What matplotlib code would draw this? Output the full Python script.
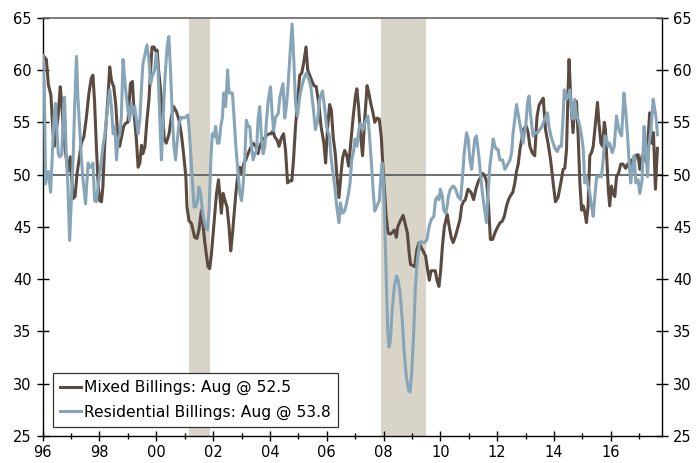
import matplotlib
matplotlib.use('Agg')
import matplotlib.pyplot as plt

# (year, value)
mixed_pts = [
    (1996.04, 61.3), (1996.13, 61.0), (1996.20, 58.6), (1996.29, 57.6), (1996.36, 54.2), (1996.41, 52.7),
    (1996.48, 54.2), (1996.54, 55.5), (1996.62, 58.4), (1996.67, 56.8), (1996.74, 53.6), (1996.81, 52.0),
    (1996.89, 50.3), (1996.97, 51.7), (1997.07, 47.7), (1997.14, 47.9), (1997.21, 50.1), (1997.28, 51.4),
    (1997.36, 53.0), (1997.45, 53.6), (1997.54, 55.5), (1997.63, 57.8), (1997.71, 59.2), (1997.77, 59.5),
    (1997.83, 56.8), (1997.89, 52.7), (1997.96, 48.8), (1998.01, 47.5), (1998.07, 47.4), (1998.12, 48.8),
    (1998.18, 52.7), (1998.24, 55.2), (1998.30, 57.4), (1998.36, 60.3), (1998.42, 59.0), (1998.50, 58.4),
    (1998.57, 56.8), (1998.63, 54.2), (1998.71, 52.7), (1998.77, 53.5), (1998.85, 54.6), (1998.92, 54.9),
    (1999.00, 55.0), (1999.09, 58.7), (1999.16, 58.9), (1999.22, 55.8), (1999.30, 53.3), (1999.36, 50.7),
    (1999.42, 51.1), (1999.48, 52.8), (1999.53, 52.0), (1999.60, 52.7), (1999.67, 55.2), (1999.74, 57.1),
    (1999.80, 60.0), (1999.85, 62.2), (1999.92, 62.2), (1999.98, 61.8), (2000.03, 61.9), (2000.08, 60.0),
    (2000.14, 58.4), (2000.21, 56.3), (2000.28, 53.4), (2000.35, 53.0), (2000.45, 53.9), (2000.53, 55.5),
    (2000.61, 56.5), (2000.71, 56.0), (2000.80, 55.2), (2000.88, 53.9), (2000.96, 52.0), (2001.04, 49.8),
    (2001.08, 46.9), (2001.15, 45.6), (2001.24, 45.3), (2001.29, 44.7), (2001.35, 44.0), (2001.43, 43.9),
    (2001.50, 44.7), (2001.59, 46.6), (2001.65, 45.0), (2001.70, 43.7), (2001.76, 42.4), (2001.82, 41.2),
    (2001.88, 41.0), (2001.94, 42.4), (2002.00, 44.3), (2002.06, 46.3), (2002.12, 48.2), (2002.19, 49.5),
    (2002.23, 48.2), (2002.29, 46.3), (2002.35, 48.2), (2002.42, 47.5), (2002.49, 46.9), (2002.56, 45.0),
    (2002.62, 42.7), (2002.68, 44.3), (2002.74, 46.3), (2002.80, 48.2), (2002.85, 49.5), (2002.94, 50.7),
    (2003.01, 50.1), (2003.08, 51.1), (2003.15, 51.4), (2003.23, 52.0), (2003.31, 52.5), (2003.41, 53.0),
    (2003.50, 52.7), (2003.58, 52.0), (2003.64, 52.7), (2003.73, 53.3), (2003.82, 53.5), (2003.90, 53.8),
    (2003.99, 53.9), (2004.05, 53.9), (2004.11, 54.2), (2004.17, 53.6), (2004.25, 53.3), (2004.32, 52.7),
    (2004.40, 53.5), (2004.48, 53.9), (2004.55, 52.3), (2004.62, 49.2), (2004.70, 49.4), (2004.77, 49.4),
    (2004.83, 51.4), (2004.90, 54.6), (2004.97, 56.9), (2005.05, 59.5), (2005.12, 59.7), (2005.19, 60.7),
    (2005.27, 62.2), (2005.33, 60.0), (2005.40, 59.5), (2005.47, 59.0), (2005.55, 58.5), (2005.63, 58.4),
    (2005.72, 56.8), (2005.80, 54.6), (2005.90, 53.0), (2005.96, 51.1), (2006.03, 54.5), (2006.10, 56.7),
    (2006.16, 56.2), (2006.23, 53.5), (2006.30, 52.0), (2006.36, 49.8), (2006.43, 47.8), (2006.50, 50.0),
    (2006.56, 51.6), (2006.63, 52.3), (2006.70, 51.9), (2006.77, 50.8), (2006.85, 53.2), (2006.93, 55.5),
    (2007.01, 57.5), (2007.06, 58.2), (2007.12, 56.5), (2007.19, 53.8), (2007.26, 51.8), (2007.33, 55.0),
    (2007.42, 58.5), (2007.48, 57.8), (2007.55, 56.8), (2007.62, 56.0), (2007.69, 55.0), (2007.77, 55.4),
    (2007.85, 55.3), (2007.92, 53.6), (2007.97, 51.1), (2008.03, 48.5), (2008.09, 46.0), (2008.16, 44.4),
    (2008.24, 44.3), (2008.32, 44.5), (2008.38, 44.7), (2008.45, 44.0), (2008.50, 45.0), (2008.56, 45.4),
    (2008.63, 45.8), (2008.69, 46.1), (2008.76, 45.3), (2008.84, 44.4), (2008.90, 42.5), (2008.95, 41.4),
    (2009.03, 41.3), (2009.10, 41.2), (2009.17, 42.8), (2009.25, 43.5), (2009.33, 43.0), (2009.41, 42.6),
    (2009.48, 42.2), (2009.55, 40.9), (2009.61, 39.9), (2009.67, 40.8), (2009.74, 40.8), (2009.82, 40.8),
    (2009.88, 39.9), (2009.95, 39.3), (2010.01, 40.8), (2010.07, 43.1), (2010.14, 45.0), (2010.24, 46.2),
    (2010.30, 45.2), (2010.38, 44.0), (2010.45, 43.5), (2010.53, 44.1), (2010.62, 45.0), (2010.69, 45.7),
    (2010.75, 47.0), (2010.81, 47.4), (2010.88, 47.6), (2010.97, 48.6), (2011.08, 48.3), (2011.17, 47.6),
    (2011.25, 48.6), (2011.33, 49.3), (2011.42, 49.8), (2011.50, 50.1), (2011.57, 49.8), (2011.63, 49.3),
    (2011.70, 46.8), (2011.76, 43.8), (2011.84, 43.8), (2011.93, 44.5), (2012.02, 45.0), (2012.10, 45.4),
    (2012.17, 45.5), (2012.25, 46.0), (2012.33, 47.0), (2012.40, 47.6), (2012.47, 48.0), (2012.55, 48.3),
    (2012.62, 49.2), (2012.68, 50.3), (2012.74, 51.0), (2012.80, 52.4), (2012.88, 53.6), (2012.94, 54.4),
    (2013.03, 54.6), (2013.09, 54.0), (2013.15, 52.7), (2013.23, 52.1), (2013.32, 51.8), (2013.40, 55.5),
    (2013.47, 56.6), (2013.55, 57.0), (2013.62, 57.3), (2013.70, 54.3), (2013.79, 53.0), (2013.88, 51.4),
    (2013.97, 49.2), (2014.05, 47.4), (2014.14, 47.8), (2014.24, 49.2), (2014.32, 50.5), (2014.38, 50.6),
    (2014.44, 52.4), (2014.50, 58.5), (2014.53, 61.0), (2014.59, 57.2), (2014.67, 54.0), (2014.73, 56.9),
    (2014.79, 57.0), (2014.85, 53.7), (2014.91, 49.2), (2014.97, 46.6), (2015.03, 47.0), (2015.09, 46.3),
    (2015.14, 45.4), (2015.20, 47.0), (2015.26, 51.8), (2015.32, 52.1), (2015.38, 52.7), (2015.46, 55.0),
    (2015.53, 56.9), (2015.58, 55.0), (2015.65, 53.0), (2015.71, 52.7), (2015.77, 55.0), (2015.81, 54.3),
    (2015.86, 51.4), (2015.91, 48.6), (2015.96, 47.0), (2016.02, 48.9), (2016.08, 48.2), (2016.14, 47.9),
    (2016.20, 49.8), (2016.28, 50.2), (2016.35, 51.0), (2016.43, 51.0), (2016.52, 50.6), (2016.59, 51.0),
    (2016.67, 50.5), (2016.73, 51.4), (2016.79, 50.5), (2016.87, 51.8), (2016.96, 51.9), (2017.02, 50.5),
    (2017.10, 51.8), (2017.17, 51.8), (2017.26, 51.1), (2017.32, 54.0), (2017.37, 55.9), (2017.43, 53.0),
    (2017.50, 54.0), (2017.57, 48.6), (2017.64, 52.5),
]

residential_pts = [
    (1996.01, 61.4), (1996.06, 58.4), (1996.10, 49.1), (1996.15, 50.1), (1996.20, 50.3), (1996.25, 49.1),
    (1996.28, 48.3), (1996.34, 52.0), (1996.40, 55.5), (1996.45, 56.8), (1996.50, 54.2), (1996.55, 52.0),
    (1996.60, 51.7), (1996.67, 51.9), (1996.74, 56.8), (1996.77, 57.4), (1996.83, 52.0), (1996.89, 48.8),
    (1996.95, 43.7), (1997.01, 47.5), (1997.07, 51.4), (1997.13, 56.8), (1997.19, 61.3), (1997.24, 57.4),
    (1997.30, 54.6), (1997.36, 51.7), (1997.42, 49.5), (1997.51, 47.2), (1997.60, 51.1), (1997.65, 50.7),
    (1997.71, 50.7), (1997.77, 51.1), (1997.83, 47.5), (1997.89, 47.4), (1997.95, 48.8), (1998.01, 50.1),
    (1998.07, 51.4), (1998.12, 52.7), (1998.18, 53.6), (1998.24, 55.2), (1998.30, 56.8), (1998.36, 58.1),
    (1998.42, 56.5), (1998.48, 53.9), (1998.54, 54.6), (1998.60, 51.4), (1998.65, 53.3), (1998.71, 53.8),
    (1998.77, 55.5), (1998.83, 61.0), (1998.89, 59.0), (1998.95, 57.4), (1999.00, 56.2), (1999.06, 55.2),
    (1999.12, 56.8), (1999.18, 55.8), (1999.24, 56.5), (1999.30, 55.2), (1999.36, 53.9), (1999.42, 55.2),
    (1999.48, 58.4), (1999.53, 60.6), (1999.63, 61.9), (1999.67, 62.4), (1999.74, 61.0), (1999.80, 58.7),
    (1999.86, 59.4), (1999.94, 60.0), (2000.00, 61.6), (2000.06, 60.0), (2000.12, 55.8), (2000.18, 51.4),
    (2000.24, 55.2), (2000.30, 59.0), (2000.38, 62.2), (2000.44, 63.2), (2000.50, 60.0), (2000.57, 55.2),
    (2000.62, 52.7), (2000.68, 51.4), (2000.74, 53.3), (2000.80, 54.9), (2000.88, 55.5), (2000.97, 55.4),
    (2001.04, 55.5), (2001.11, 55.7), (2001.15, 54.6), (2001.21, 52.0), (2001.27, 49.5), (2001.33, 46.9),
    (2001.39, 46.9), (2001.45, 47.5), (2001.50, 48.8), (2001.56, 48.2), (2001.62, 46.6), (2001.68, 45.6),
    (2001.74, 45.0), (2001.80, 44.7), (2001.86, 46.6), (2001.92, 51.4), (2001.97, 53.9), (2002.03, 53.6),
    (2002.09, 54.6), (2002.15, 53.0), (2002.21, 53.0), (2002.27, 54.6), (2002.33, 55.5), (2002.37, 57.8),
    (2002.44, 56.5), (2002.51, 60.0), (2002.56, 57.8), (2002.62, 57.8), (2002.68, 57.8), (2002.73, 55.8),
    (2002.80, 52.7), (2002.88, 50.1), (2002.94, 48.2), (2003.00, 47.5), (2003.05, 48.8), (2003.11, 51.1),
    (2003.17, 55.2), (2003.23, 54.6), (2003.29, 54.6), (2003.35, 52.7), (2003.41, 51.4), (2003.47, 52.0),
    (2003.53, 52.3), (2003.58, 55.2), (2003.64, 56.5), (2003.70, 53.6), (2003.76, 52.0), (2003.82, 52.7),
    (2003.88, 55.2), (2003.94, 57.1), (2004.02, 58.4), (2004.08, 55.8), (2004.13, 54.2), (2004.20, 55.5),
    (2004.29, 55.8), (2004.35, 57.4), (2004.46, 58.7), (2004.52, 55.4), (2004.58, 56.5), (2004.64, 58.6),
    (2004.71, 61.6), (2004.78, 64.4), (2004.84, 61.0), (2004.90, 56.8), (2004.97, 55.6), (2005.05, 57.5),
    (2005.12, 58.4), (2005.20, 59.2), (2005.28, 59.7), (2005.36, 59.2), (2005.44, 58.4), (2005.52, 56.5),
    (2005.60, 54.3), (2005.67, 55.0), (2005.75, 57.2), (2005.85, 58.0), (2005.92, 56.5), (2006.00, 54.5),
    (2006.09, 53.7), (2006.16, 51.4), (2006.28, 48.9), (2006.35, 47.0), (2006.43, 45.4), (2006.48, 47.3),
    (2006.55, 46.3), (2006.63, 46.5), (2006.70, 47.3), (2006.76, 48.1), (2006.82, 49.2), (2006.88, 51.4),
    (2006.93, 52.0), (2007.00, 53.4), (2007.06, 52.7), (2007.13, 54.3), (2007.20, 54.9), (2007.28, 54.3),
    (2007.35, 55.0), (2007.45, 55.6), (2007.51, 53.5), (2007.58, 50.8), (2007.64, 48.2), (2007.69, 46.5),
    (2007.77, 47.0), (2007.85, 47.5), (2007.91, 50.0), (2007.95, 51.1), (2008.00, 49.2), (2008.05, 44.5),
    (2008.10, 39.6), (2008.15, 34.8), (2008.19, 33.5), (2008.24, 34.1), (2008.30, 37.0), (2008.38, 39.3),
    (2008.46, 40.3), (2008.52, 39.8), (2008.58, 38.7), (2008.65, 36.4), (2008.72, 33.2), (2008.80, 30.7),
    (2008.88, 29.4), (2008.93, 29.2), (2008.99, 31.0), (2009.06, 34.8), (2009.12, 39.3), (2009.19, 41.9),
    (2009.27, 43.5), (2009.33, 43.6), (2009.39, 43.5), (2009.45, 43.5), (2009.53, 43.8), (2009.60, 45.0),
    (2009.68, 45.7), (2009.77, 46.0), (2009.83, 47.6), (2009.90, 47.9), (2009.95, 47.6), (2010.00, 48.6),
    (2010.07, 47.9), (2010.12, 46.6), (2010.19, 46.3), (2010.24, 47.0), (2010.28, 47.9), (2010.35, 48.6),
    (2010.45, 48.9), (2010.54, 48.6), (2010.62, 47.9), (2010.71, 47.6), (2010.78, 49.8), (2010.84, 52.1),
    (2010.92, 54.0), (2010.98, 53.4), (2011.04, 51.4), (2011.10, 50.5), (2011.15, 51.8), (2011.21, 53.4),
    (2011.27, 53.7), (2011.34, 52.1), (2011.41, 50.2), (2011.48, 48.2), (2011.56, 46.6), (2011.62, 45.4),
    (2011.68, 48.2), (2011.74, 50.8), (2011.80, 52.1), (2011.86, 53.4), (2011.92, 52.7), (2011.98, 52.4),
    (2012.03, 52.4), (2012.09, 51.4), (2012.19, 51.4), (2012.27, 50.5), (2012.33, 50.8), (2012.39, 51.1),
    (2012.45, 51.4), (2012.51, 52.1), (2012.56, 54.0), (2012.62, 55.3), (2012.68, 56.7), (2012.77, 55.3),
    (2012.85, 54.0), (2012.91, 53.0), (2013.01, 54.8), (2013.07, 56.9), (2013.12, 57.5), (2013.18, 55.6),
    (2013.26, 53.7), (2013.32, 54.0), (2013.42, 54.0), (2013.50, 54.3), (2013.58, 54.6), (2013.67, 55.3),
    (2013.77, 55.9), (2013.82, 54.6), (2013.89, 53.7), (2013.97, 53.0), (2014.05, 52.4), (2014.12, 52.2),
    (2014.18, 52.7), (2014.26, 52.7), (2014.32, 55.6), (2014.36, 58.1), (2014.44, 57.2), (2014.50, 57.5),
    (2014.56, 58.1), (2014.61, 56.2), (2014.67, 55.3), (2014.73, 57.2), (2014.79, 55.6), (2014.85, 55.3),
    (2014.91, 54.6), (2014.97, 53.7), (2015.03, 52.4), (2015.08, 49.2), (2015.14, 49.8), (2015.20, 48.9),
    (2015.26, 48.2), (2015.32, 47.0), (2015.38, 46.0), (2015.44, 48.0), (2015.50, 49.8), (2015.55, 49.8),
    (2015.61, 49.8), (2015.67, 49.8), (2015.73, 51.4), (2015.79, 53.7), (2015.85, 53.4), (2015.91, 52.7),
    (2015.96, 53.0), (2016.05, 52.1), (2016.12, 52.7), (2016.20, 55.6), (2016.26, 54.6), (2016.32, 54.0),
    (2016.38, 53.7), (2016.46, 57.8), (2016.52, 56.2), (2016.59, 53.7), (2016.63, 51.8), (2016.70, 49.2),
    (2016.75, 50.5), (2016.82, 51.8), (2016.88, 49.2), (2016.96, 49.5), (2017.02, 48.2), (2017.10, 49.5),
    (2017.17, 54.6), (2017.22, 53.0), (2017.29, 49.8), (2017.34, 52.7), (2017.41, 54.3), (2017.49, 57.2),
    (2017.55, 56.2), (2017.61, 55.0), (2017.64, 53.8),
]

mixed_x = [p[0] for p in mixed_pts]
mixed_y = [p[1] for p in mixed_pts]
res_x = [p[0] for p in residential_pts]
res_y = [p[1] for p in residential_pts]

recession_start = [2001.15, 2007.91]
recession_end = [2001.90, 2009.49]

mixed_label = "Mixed Billings: Aug @ 52.5"
res_label = "Residential Billings: Aug @ 53.8"

major_years = list(range(1996, 2017, 2))
minor_years = list(range(1997, 2018, 2))
year_labels = ["%02d" % (y % 100) for y in major_years]
y_ticks = list(range(25, 66, 5))

plt.rcParams['font.family'] = ['DejaVu Sans']

fig = plt.figure(figsize=(6.96, 4.63), dpi=100)
ax = fig.add_axes([0.0613, 0.0583, 0.8898, 0.9035])

for s, e in zip(recession_start, recession_end):
    ax.axvspan(s, e, color='#d8d4c8', lw=0, zorder=0)

ax.axhline(50, color='#555555', lw=1.2, zorder=1)
ax.plot(mixed_x, mixed_y, color='#5b4a3f', lw=2.2, label=mixed_label, zorder=2)
ax.plot(res_x, res_y, color='#87a5b8', lw=2.2, label=res_label, zorder=3)

ax.set_xlim(1996, 2017.8)
ax.set_ylim(25, 65)
ax.set_xticks(major_years)
ax.set_xticklabels(year_labels)
ax.set_xticks(minor_years, minor=True)
ax.set_yticks(y_ticks)

ax.tick_params(axis='x', which='major', direction='inout', length=7, width=1, pad=3, labelsize=10.5)
ax.tick_params(axis='x', which='minor', direction='inout', length=5, width=1)
ax.tick_params(axis='y', direction='inout', length=8, width=1, pad=4, labelsize=10.5,
               left=True, right=True, labelleft=True, labelright=True)

for side in ['left', 'right', 'bottom']:
    ax.spines[side].set_color('black')
    ax.spines[side].set_linewidth(1)
ax.spines['top'].set_color('#666666')
ax.spines['top'].set_linewidth(1.2)

leg = ax.legend(loc='lower left', bbox_to_anchor=(0.016, 0.022), borderaxespad=0,
                fancybox=False, framealpha=1, edgecolor='#333333', fontsize=11.2,
                borderpad=0.45, handlelength=1.4, handletextpad=0.2, labelspacing=0.6)
leg.get_frame().set_linewidth(0.9)
leg.set_zorder(5)

fig.savefig('out.png', dpi=100)
